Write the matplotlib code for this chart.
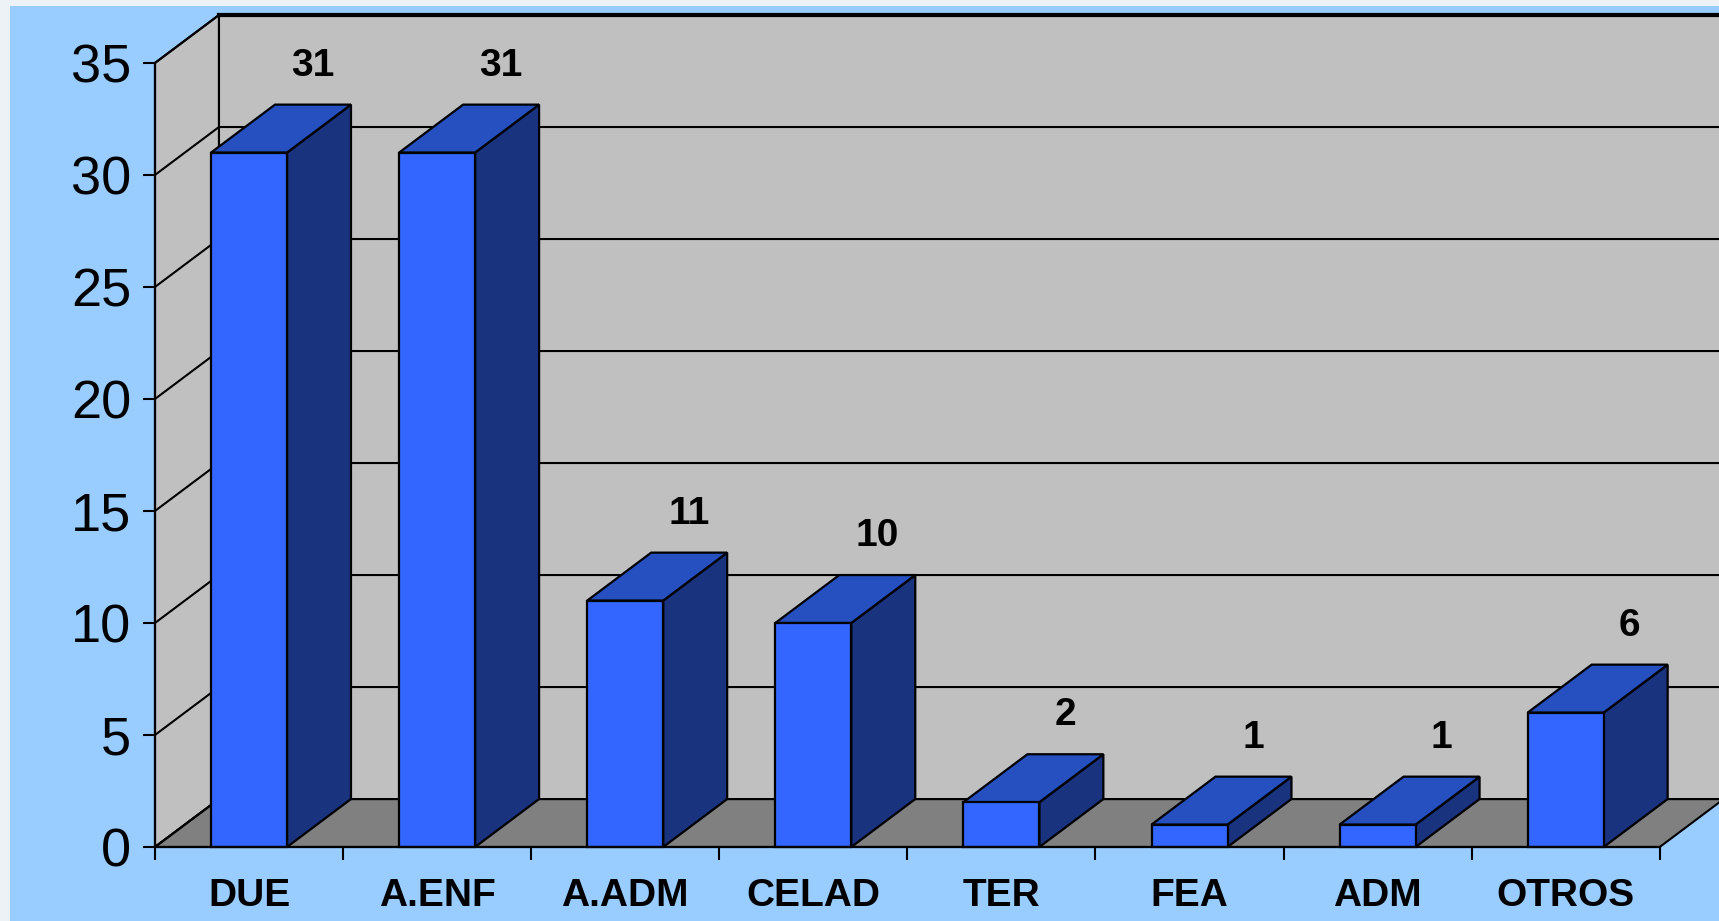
import matplotlib
matplotlib.use("Agg")
import matplotlib.pyplot as plt
from matplotlib.patches import Polygon, Rectangle
from matplotlib.ticker import FixedLocator
import numpy as np

plt.rcParams['font.family'] = ['Liberation Sans', 'DejaVu Sans']

categories = ["DUE", "A.ENF", "A.ADM", "CELAD", "TER", "FEA", "ADM", "OTROS"]
values = [31, 31, 11, 10, 2, 1, 1, 6]
y_ticks = [0, 5, 10, 15, 20, 25, 30, 35]

# 3D look: depth offset of the walls/bars in data units
DX, DY = 0.34, 2.14
bar_w = 0.404
ymax = 35

front = '#3366FF'
side = '#1A337F'
top = '#2650C0'

fig = plt.figure(figsize=(17.19, 9.21), dpi=100, facecolor='#EDF2F7')
fig.add_artist(Rectangle((10 / 1719, 0), 1, 1 - 6 / 921, transform=fig.transFigure,
                         facecolor='#99CCFF', edgecolor='none', zorder=0))

ax = fig.add_axes([0, 0, 1, 1])
ax.set_facecolor('none')
ax.set_xlim(-1.324, 7.815)
ax.set_ylim(-3.304, 37.81)

n = len(categories)
x0, x1 = -0.5, n - 0.5

# walls and floor
left_wall = Polygon([(x0, 0), (x0, ymax), (x0 + DX, ymax + DY), (x0 + DX, DY)],
                    facecolor='#C0C0C0', edgecolor='black', lw=1.5, zorder=1)
back_wall = Polygon([(x0 + DX, DY), (x0 + DX, ymax + DY), (x1 + DX, ymax + DY), (x1 + DX, DY)],
                    facecolor='#C0C0C0', edgecolor='none', zorder=1)
floor = Polygon([(x0, 0), (x1, 0), (x1 + DX, DY), (x0 + DX, DY)],
                facecolor='#808080', edgecolor='black', lw=1.5, zorder=1)
for p in (left_wall, back_wall, floor):
    ax.add_patch(p)

# gridlines on the walls
for t in y_ticks:
    ax.plot([x0, x0 + DX, x1 + DX], [t, t + DY, t + DY], color='black', lw=1.5, zorder=2)
ax.plot([x0 + DX, x1 + DX], [ymax + DY, ymax + DY], color='black', lw=3, zorder=2)
ax.plot([x0 + DX, x0 + DX], [DY, ymax + DY], color='black', lw=1.5, zorder=2)

# bars, right to left
for i in range(n - 1, -1, -1):
    v = values[i]
    l, r = i - bar_w / 2, i + bar_w / 2
    ax.add_patch(Polygon([(r, 0), (r + DX, DY), (r + DX, v + DY), (r, v)],
                         facecolor=side, edgecolor='black', lw=1.6, zorder=3))
    ax.add_patch(Polygon([(l, v), (r, v), (r + DX, v + DY), (l + DX, v + DY)],
                         facecolor=top, edgecolor='black', lw=1.6, zorder=3))
    ax.add_patch(Polygon([(l, 0), (r, 0), (r, v), (l, v)],
                         facecolor=front, edgecolor='black', lw=1.6, zorder=3))
    ax.annotate(str(v), xy=(i + DX, v + DY), xytext=(0, 28), textcoords='offset points',
                ha='center', va='center', fontsize=28, fontweight='bold', zorder=4)

# axes
for s in ('top', 'right'):
    ax.spines[s].set_visible(False)
ax.spines['left'].set_position(('data', x0))
ax.spines['left'].set_bounds(0, ymax)
ax.spines['bottom'].set_position(('data', 0))
ax.spines['bottom'].set_bounds(x0, x1)
for s in ('left', 'bottom'):
    ax.spines[s].set_linewidth(1.6)
    ax.spines[s].set_zorder(5)

ax.set_yticks(y_ticks)
ax.tick_params(axis='y', labelsize=39, length=9, width=1.5, pad=8)

ax.xaxis.set_major_locator(FixedLocator(np.arange(x0, x1 + 0.01, 1)))
ax.xaxis.set_minor_locator(FixedLocator(np.arange(n)))
ax.tick_params(axis='x', which='major', length=9.5, width=1.5, labelbottom=False)
ax.tick_params(axis='x', which='minor', length=0, pad=22, labelsize=28)
ax.set_xticklabels(categories, minor=True, fontweight='bold')

fig.savefig('out.png', dpi=100, facecolor=fig.get_facecolor())
